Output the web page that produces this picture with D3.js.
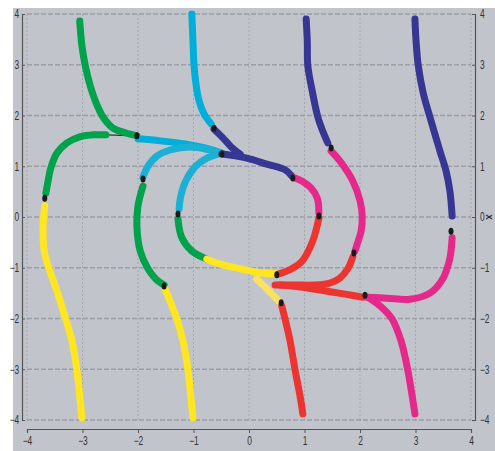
<!DOCTYPE html>
<html>
<head>
<meta charset="utf-8">
<script src="https://cdn.jsdelivr.net/npm/d3@7"></script>
<style>
  body { margin: 0; background: #fff; }
  text { font-family: "Liberation Sans", Arial, sans-serif; fill: #333; }
</style>
</head>
<body>
<div id="chart"></div>
<script>
// tick values
const ticks = [-4, -3, -2, -1, 0, 1, 2, 3, 4];

// curve pieces, [x, y]
const greenTop = [[-3.05,3.86],[-3.01,3.37],[-2.95,2.98],[-2.86,2.58],[-2.77,2.29],[-2.63,1.97],[-2.45,1.75],[-2.23,1.66],[-2.02,1.60]];
const greenLeft = [[-3.66,0.47],[-3.62,0.71],[-3.57,0.97],[-3.46,1.26],[-3.28,1.46],[-3.05,1.58],[-2.77,1.62],[-2.58,1.62]];
const yellowLeft = [[-3.68,0.22],[-3.71,-0.18],[-3.69,-0.67],[-3.59,-1.06],[-3.46,-1.46],[-3.32,-1.95],[-3.19,-2.44],[-3.10,-3.03],[-3.05,-3.53],[-3.01,-3.96]];
const greenMid = [[-1.91,0.61],[-2.00,0.22],[-2.02,-0.18],[-1.96,-0.67],[-1.82,-1.02],[-1.68,-1.22],[-1.53,-1.34]];
const yellowMid = [[-1.51,-1.42],[-1.42,-1.66],[-1.30,-2.01],[-1.19,-2.44],[-1.10,-3.01],[-1.05,-3.53],[-1.01,-3.96]];
const cyanTop = [[-1.03,4.00],[-1.01,3.47],[-0.99,2.98],[-0.95,2.58],[-0.90,2.29],[-0.81,2.03],[-0.68,1.83]];
const navyA = [[-0.63,1.73],[-0.47,1.56],[-0.32,1.38],[-0.16,1.24]];
const navyB = [[-0.49,1.24],[-0.04,1.16],[0.32,1.04],[0.65,0.93],[0.77,0.81]];
const cyanB = [[-2.00,1.54],[-1.60,1.50],[-1.15,1.44],[-0.79,1.36],[-0.49,1.26]];
const cyanC = [[-1.91,0.79],[-1.82,1.00],[-1.66,1.20],[-1.42,1.32],[-1.06,1.38],[-0.70,1.32],[-0.49,1.26]];
const cyanD = [[-1.26,0.16],[-1.23,0.41],[-1.14,0.71],[-0.97,0.99],[-0.76,1.16],[-0.49,1.26]];
const navyMid = [[1.03,3.90],[1.05,3.47],[1.06,2.98],[1.14,2.48],[1.24,1.97],[1.33,1.69],[1.42,1.46]];
const magentaMid = [[1.48,1.30],[1.64,1.10],[1.87,0.71],[2.00,0.32],[2.04,0.02],[2.02,-0.28],[1.95,-0.53],[1.91,-0.67]];
const redF = [[1.87,-0.79],[1.78,-1.02],[1.64,-1.20],[1.46,-1.30],[1.19,-1.34],[0.83,-1.34],[0.47,-1.34]];
const redG = [[2.05,-1.58],[1.73,-1.52],[1.28,-1.44],[0.92,-1.38],[0.56,-1.34]];
const magentaRight = [[2.13,-1.58],[2.49,-1.60],[2.90,-1.62],[3.26,-1.50],[3.50,-1.20],[3.62,-0.81],[3.66,-0.41]];
const navyRight = [[2.99,3.90],[3.01,3.47],[3.05,2.98],[3.14,2.44],[3.26,1.97],[3.44,1.30],[3.55,0.91],[3.62,0.51],[3.66,0.02]];
const magentaLow = [[2.14,-1.58],[2.36,-1.75],[2.58,-2.01],[2.74,-2.44],[2.86,-3.01],[2.94,-3.53],[2.99,-3.88]];
const greenInner = [[-1.28,-0.04],[-1.21,-0.41],[-1.03,-0.67],[-0.76,-0.83]];
const yellowInner = [[-0.76,-0.83],[-0.52,-0.93],[-0.16,-1.02],[0.20,-1.10],[0.49,-1.12]];
const redInner = [[0.54,-1.12],[0.77,-1.02],[0.97,-0.85],[1.15,-0.47],[1.26,-0.02]];
const magentaInner = [[1.26,0.08],[1.23,0.37],[1.12,0.57],[0.95,0.71],[0.83,0.77]];
const paleYellow = [[0.14,-1.22],[0.34,-1.44],[0.54,-1.66]];
const redLow = [[0.59,-1.75],[0.65,-2.01],[0.74,-2.44],[0.83,-3.01],[0.92,-3.53],[0.97,-3.88]];
const connector = [[-2.58,1.62],[-2.02,1.60]];

// junction points
const dots = [[-2.02,1.60],[-3.68,0.37],[-1.91,0.75],[-1.53,-1.36],[-0.63,1.75],[-0.49,1.24],[0.79,0.77],[-1.28,0.06],[1.26,0.02],[0.50,-1.14],[0.58,-1.69],[1.48,1.36],[1.89,-0.71],[2.09,-1.54],[3.64,-0.28]];

const green = "#00a24c", yellow = "#ffe620", cyan = "#00afd9", cyan2 = "#1cb0d4",
      navy = "#363793", magenta = "#e5298b", red = "#ec3530", pale = "#fbe264";

const series = [
  [greenTop, green], [greenLeft, green], [yellowLeft, yellow], [greenMid, green], [yellowMid, yellow],
  [cyanTop, cyan], [cyanB, cyan], [cyanC, cyan2], [cyanD, cyan2], [navyA, navy], [navyB, navy],
  [navyMid, navy], [magentaMid, magenta], [redF, red], [redG, red], [magentaRight, magenta],
  [navyRight, navy], [magentaLow, magenta], [greenInner, green], [yellowInner, yellow],
  [redInner, red], [magentaInner, magenta], [paleYellow, pale], [redLow, red]
];

const W = 495, H = 451;
const svg = d3.select("#chart").append("svg").attr("width", W).attr("height", H);

svg.append("rect").attr("x", 13).attr("y", 8).attr("width", W - 13).attr("height", H - 8).attr("fill", "#c1c5cb");

const x = d3.scaleLinear().domain([-4, 4]).range([27, 471]);
const y = d3.scaleLinear().domain([-4, 4]).range([420, 14]);

// grid
svg.append("g").selectAll("line").data(ticks).join("line")
  .attr("x1", d => x(d)).attr("x2", d => x(d)).attr("y1", y(4)).attr("y2", y(-4))
  .attr("stroke", "#a4a8ae").attr("stroke-width", 1).attr("stroke-dasharray", "2,2");
svg.append("g").selectAll("line").data(ticks).join("line")
  .attr("x1", x(-4)).attr("x2", x(4)).attr("y1", d => y(d)).attr("y2", d => y(d))
  .attr("stroke", "#9a9ea5").attr("stroke-width", 1.5).attr("stroke-dasharray", "5,2");

// axes
function styleAxis(g) {
  g.select(".domain").attr("stroke", "#555").attr("stroke-width", 1.2);
  g.selectAll(".tick line").attr("stroke", "#555");
  g.selectAll("text").attr("font-size", 12).attr("fill", "#444").attr("transform", "scale(0.7,1)");
}
const axL = svg.append("g").attr("transform", "translate(22,0)")
  .call(d3.axisLeft(y).tickValues(ticks).tickSize(-3).tickPadding(4).tickFormat(d3.format("d")));
styleAxis(axL);

const axR = svg.append("g").attr("transform", "translate(475,0)")
  .call(d3.axisRight(y).tickValues(ticks).tickSize(-3).tickPadding(7).tickFormat(d3.format("d")));
styleAxis(axR);

const axB = svg.append("g").attr("transform", "translate(0,429)")
  .call(d3.axisBottom(x).tickValues(ticks).tickSize(4).tickPadding(3).tickFormat(d3.format("d")));
styleAxis(axB);

svg.append("text").attr("transform", `translate(486,${y(0)}) rotate(90)`)
  .attr("text-anchor", "middle").attr("font-size", 10).attr("font-weight", "bold").attr("fill", "#222")
  .text("x");

// curves
const line = d3.line().x(d => x(d[0])).y(d => y(d[1])).curve(d3.curveCatmullRom);

svg.append("path").attr("d", line(connector)).attr("fill", "none").attr("stroke", "#333").attr("stroke-width", 1.2);

svg.append("g").selectAll("path").data(series).join("path")
  .attr("d", d => line(d[0]))
  .attr("fill", "none").attr("stroke", d => d[1])
  .attr("stroke-width", 7).attr("stroke-linecap", "round").attr("stroke-linejoin", "round");

svg.append("g").selectAll("ellipse").data(dots).join("ellipse")
  .attr("cx", d => x(d[0])).attr("cy", d => y(d[1]))
  .attr("rx", 2.5).attr("ry", 3.5).attr("fill", "#1a1a1a");
</script>
</body>
</html>
